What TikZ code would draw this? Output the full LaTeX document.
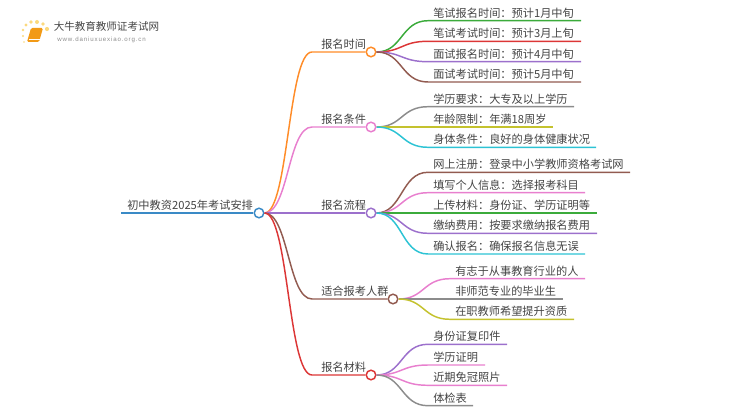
\documentclass[tikz,border=0pt]{standalone}
\usepackage{fontspec}
\setmainfont{Noto Sans CJK SC}
\newfontfamily\sitefont[LetterSpace=14]{Liberation Sans}
\usetikzlibrary{calc}
\definecolor{TextGrey}{HTML}{444444}
\definecolor{RootBlue}{HTML}{3A8AC6}
\definecolor{MapOrange}{HTML}{FF8C28}
\definecolor{MapPink}{HTML}{E87FCE}
\definecolor{MapPurple}{HTML}{9C70CC}
\definecolor{MapBrown}{HTML}{925B50}
\definecolor{MapRed}{HTML}{DC3636}
\definecolor{MapGreen}{HTML}{3BAB3B}
\definecolor{MapGrey}{HTML}{8C8C8C}
\definecolor{MapOlive}{HTML}{C4C22E}
\definecolor{MapCyan}{HTML}{2CC3D4}
\definecolor{BookOrange}{HTML}{F29A16}
\definecolor{DotYellow}{HTML}{FBD97E}
\tikzset{
  hub/.style={circle,draw,fill=white,line width=1.1pt,inner sep=0pt,minimum size=7.2pt},
  branch/.style={line width=1.1pt},
  label/.style={anchor=base west,inner sep=0pt,text=TextGrey,font=\fontsize{8.4pt}{10pt}\selectfont},
}
\begin{document}
\begin{tikzpicture}[x=0.75pt,y=-0.75pt]
  \useasboundingbox (0,0) rectangle (750,410);
  % logo
  \foreach \dx/\dy/\dr in {23/30/1.3,26/25/1.6,31/22/1.9,37/22/2,43/24/1.8,47/29/2.1,23/36/1.1,24/42/.8}
    \fill[DotYellow] (\dx,\dy) circle (\dr);
  \fill[BookOrange,rounded corners=1pt] (31,28)--(43,28)--(39,42)--(27,42)--cycle;
  \draw[white,line width=.5pt] (29,39.5)--(39.5,39.5);
  \node[anchor=base west,inner sep=0pt,text=TextGrey,font=\fontsize{7.9pt}{9pt}\selectfont] (logotext) at (53.5,31) {大牛教育教师证考试网};
  \node[anchor=base west,inner sep=0pt,text=MapGrey,font=\fontsize{4.6pt}{6pt}\sitefont] (logosite) at (57,41.5) {www.daniuxuexiao.org.cn};
  % root and its hubs
  \node[hub,draw=RootBlue] (root) at (259,213) {};
  \node[label] (roottext) at (127,209.5) {初中教资2025年考试安排};
  \coordinate (rootend) at (121,213);
  \draw[branch,RootBlue,line width=1.5pt] (rootend)--(root.west);
  \foreach \name/\yy/\xx/\startx/\col/\txt in {
    time/52/371/321/MapOrange/报名时间,
    cond/127/371/321/MapPink/报名条件,
    flow/213/371/321/MapPurple/报名流程,
    crowd/299/393/321/MapBrown/适合报考人群,
    docs/375/371/321/MapRed/报名材料}{
    \node[hub,draw=\col] (\name) at (\xx,\yy) {};
    \node[label] (\name text) at (\startx,\yy-3.5) {\txt};
    \coordinate (\name turn) at (312,\yy);
    \draw[branch,\col] (root.east) .. controls ($(root.east)+(24,0)$) and (288,\yy) .. (\name turn) -- (\name.west);
  }
  % leaves of the first hubs
  \foreach \name/\hub/\yy/\xend/\col/\txt in {
    a/time/20.7/581/MapGreen/笔试报名时间：预计1月中旬,
    b/time/41.3/581/MapRed/笔试考试时间：预计3月上旬,
    c/time/61.7/581/MapPurple/面试报名时间：预计4月中旬,
    d/time/82/581/MapBrown/面试考试时间：预计5月中旬,
    e/cond/106.7/574/MapGrey/学历要求：大专及以上学历,
    f/cond/127/553/MapOlive/年龄限制：年满18周岁,
    g/cond/147.3/596/MapCyan/身体条件：良好的身体健康状况,
    h/flow/172.3/630/MapBrown/网上注册：登录中小学教师资格考试网,
    i/flow/192.7/585/MapPink/填写个人信息：选择报考科目,
    j/flow/213/597/MapGreen/上传材料：身份证、学历证明等,
    k/flow/233.3/597/MapPurple/缴纳费用：按要求缴纳报名费用,
    l/flow/254/585/MapCyan/确认报名：确保报名信息无误,
    p/docs/344.3/507/MapPurple/身份证复印件,
    q/docs/365/485/MapPink/学历证明,
    r/docs/385.3/507/MapPink/近期免冠照片,
    s/docs/405.7/473/MapGrey/体检表}{
    \coordinate (\name end) at (\xend,\yy);
    \node[label] (\name) at (433,\yy-3.5) {\txt};
    \draw[branch,\col] (\hub.east) .. controls ($(\hub.east)+(26,0)$) and (401,\yy) .. (428,\yy) -- (\name end);
  }
  % the longer hub sits further right
  \foreach \name/\yy/\xend/\col/\txt in {
    m/278.7/585/MapPink/有志于从事教育行业的人,
    n/299/563/MapGrey/非师范专业的毕业生,
    o/319.3/574/MapOlive/在职教师希望提升资质}{
    \coordinate (\name end) at (\xend,\yy);
    \node[label] (\name) at (455,\yy-3.5) {\txt};
    \draw[branch,\col] (crowd.east) .. controls ($(crowd.east)+(26,0)$) and (423,\yy) .. (450,\yy) -- (\name end);
  }
\end{tikzpicture}
\end{document}
